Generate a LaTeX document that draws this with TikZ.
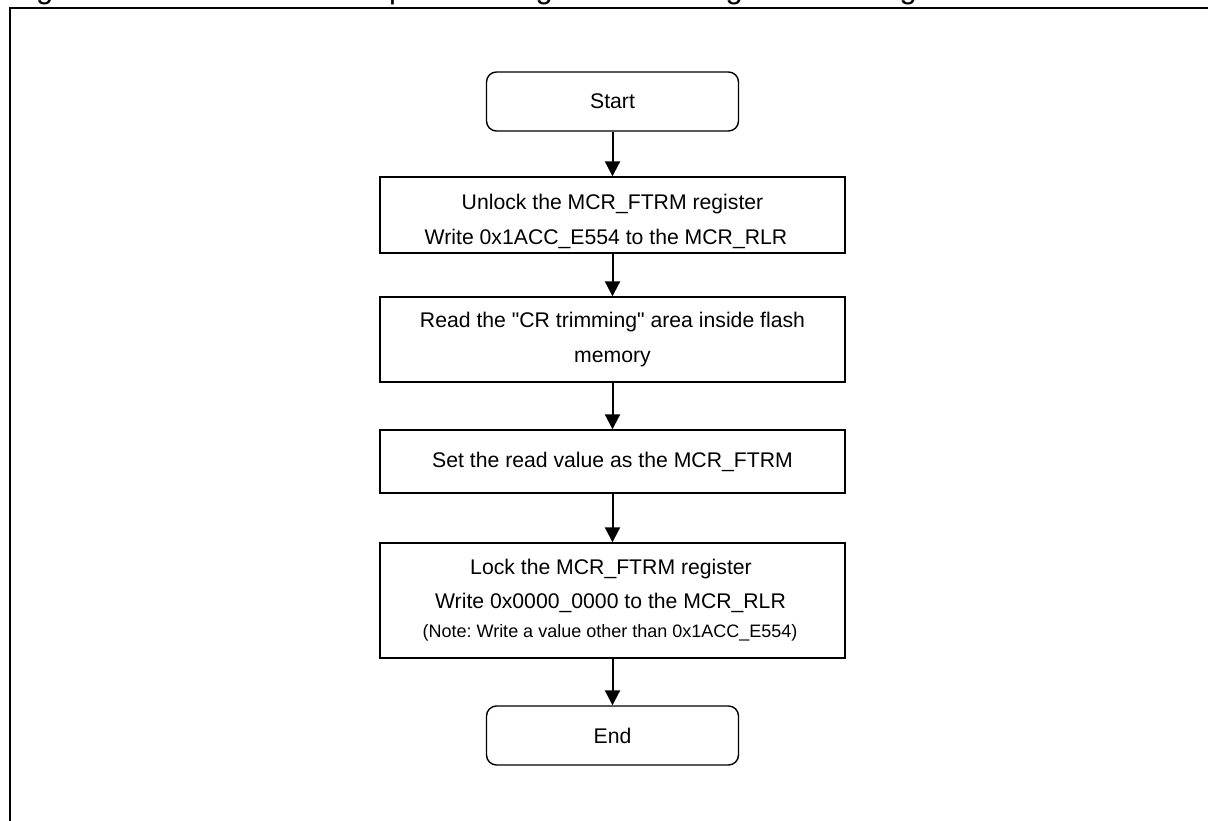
\documentclass[tikz,border=0pt]{standalone}
\usepackage{fontspec}
\setmainfont{Liberation Sans}[Ligatures=TeXOff]
\usetikzlibrary{arrows.meta}
\newcommand{\bodyfont}{\fontsize{21.2}{25}\selectfont}
\newcommand{\notefont}{\fontsize{18}{22}\selectfont}
\frenchspacing
\begin{document}
\begin{tikzpicture}[x=1pt,y=-1pt,
  termbox/.style={draw, line width=1.4pt, rounded corners=10pt,
    minimum width=252pt, minimum height=59pt, inner sep=0pt, font=\bodyfont},
  procbox/.style={draw, line width=1.4pt, minimum width=465pt, inner sep=0pt, font=\bodyfont},
  txt/.style={inner sep=0pt, anchor=base, font=\bodyfont},
  notetxt/.style={inner sep=0pt, anchor=base, font=\notefont},
  flow/.style={line width=2pt, -{Triangle[width=15pt,length=15pt]}}]

% page area
\useasboundingbox (0,0) rectangle (1208,821);
\clip (0,0) rectangle (1208,821);
\fill[white] (0,0) rectangle (1208,821);

% caption (cut at the top edge) and outer frame
\node[anchor=base west, inner sep=0pt, font=\fontsize{31}{36}\selectfont] (title) at (10,-1.5)
  {Figure 4.6 Procedure Example of Using CR Trimming Area Storage Data};
\draw[line width=1.6pt] (10,8) rectangle (1240,850);

% flow steps
\node[termbox] (start) at (612.5,101.5) {Start};

\node[procbox, minimum height=76pt] (unlock) at (612.5,215) {};
\node[txt] (unlock1) at (612.5,210) {Unlock the MCR\_FTRM register};
\node[txt] (unlock2) at (606,245) {Write 0x1ACC\_E554 to the MCR\_RLR};

\node[procbox, minimum height=85pt] (read) at (612.5,339.5) {};
\node[txt] (read1) at (612.5,327.5) {Read the "CR trimming" area inside flash};
\node[txt] (read2) at (612.5,362) {memory};

\node[procbox, minimum height=63pt] (set) at (612.5,461.5) {Set the read value as the MCR\_FTRM};

\node[procbox, minimum height=115pt] (lock) at (612.5,600.5) {};
\node[txt] (lock1) at (611,574) {Lock the MCR\_FTRM register};
\node[txt] (lock2) at (610.5,608) {Write 0x0000\_0000 to the MCR\_RLR};
\node[notetxt] (lock3) at (610,637) {(Note: Write a value other than 0x1ACC\_E554)};

\node[termbox] (end) at (612.5,735.5) {End};

% connectors
\draw[flow] (start) -- (unlock);
\draw[flow] (unlock) -- (read);
\draw[flow] (read) -- (set);
\draw[flow] (set) -- (lock);
\draw[flow] (lock) -- (end);
\end{tikzpicture}
\end{document}
